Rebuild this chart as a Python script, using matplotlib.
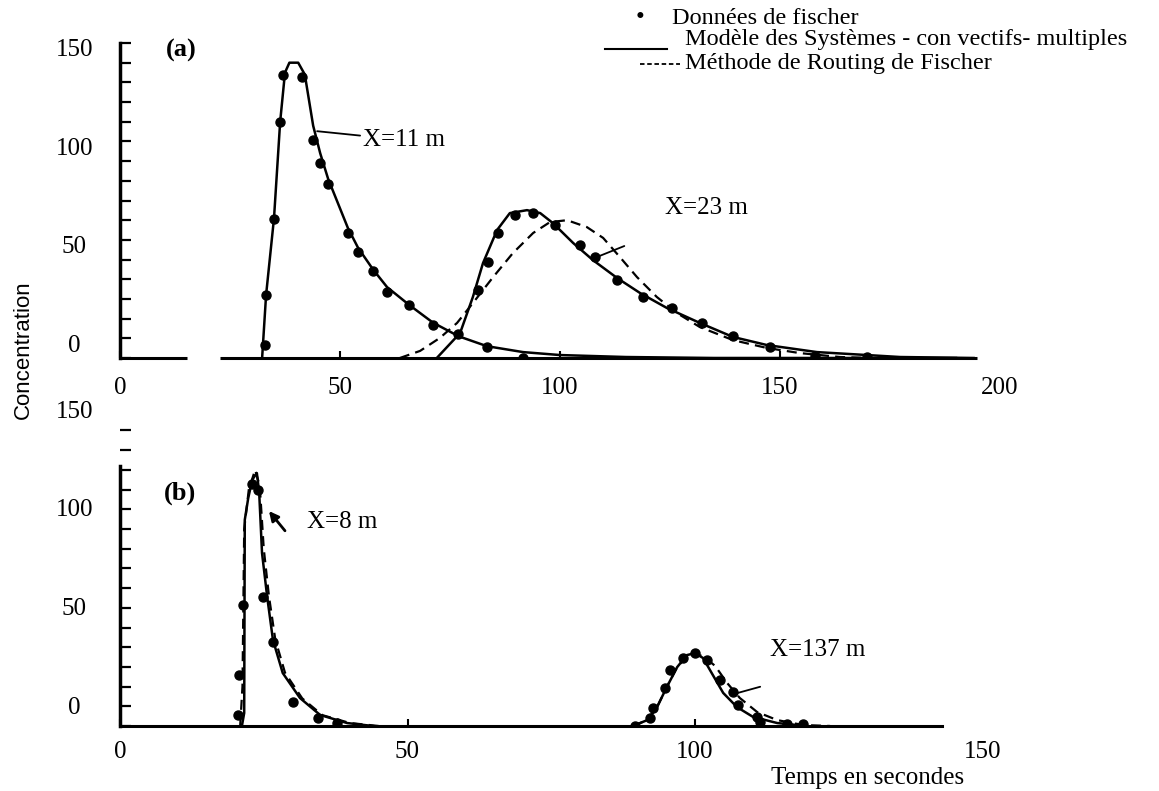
import matplotlib.pyplot as plt
from matplotlib.ticker import MultipleLocator
from matplotlib.transforms import ScaledTranslation
from matplotlib.lines import Line2D

plt.rcParams['font.family'] = 'Liberation Serif'

# ---- panel (a) ----
# X = 11 m
t11_model = [32.3, 33.2, 35.0, 36.4, 37.5, 38.5, 40.5, 42.0, 43.9, 45.5, 47.3, 51.8,
             54.1, 57.5, 60.7, 65.7, 71.1, 77.0, 83.4, 91.6, 100.0, 115.0, 135.0, 190.0]
c11_model = [0, 32, 71, 120, 145, 150, 150, 144, 118, 104, 91, 66,
             56, 45, 36, 27, 18, 11, 6, 3, 1.5, 0.5, 0, 0]
t11_data = [33.0, 33.2, 35.0, 36.4, 37.0, 41.4, 43.9, 45.5, 47.3, 51.8, 54.1, 57.5,
            60.7, 65.7, 71.1, 83.4, 91.6]
c11_data = [6.6, 32, 70.6, 120, 144, 142.6, 110.7, 99, 88.3, 63.5, 53.8, 44.2,
            33.5, 26.9, 16.8, 5.6, 0]

# X = 23 m
t23_model = [72.0, 77.3, 80.2, 82.5, 85.7, 88.6, 92.5, 95.5, 98.4, 103.0, 107.5, 113.0,
             118.2, 124.3, 131.8, 139.3, 147.0, 158.4, 169.8, 177.3, 194.0]
c23_model = [0, 12.7, 31, 48.2, 65, 73.6, 75.1, 73.6, 68.5, 58.4, 49.7, 40.6,
             33, 25.4, 17.8, 10.7, 6.6, 3, 1.5, 0.5, 0]
t23_fischer = [63.6, 68.2, 72.7, 76.6, 80.2, 84.8, 89.3, 93.9, 97.7, 101.6, 106.1, 109.8,
               113.6, 117.5, 122.0, 126.6, 131.8, 139.3, 147.0, 154.5, 163.6, 170.5]
c23_fischer = [0, 3.6, 10.2, 17.8, 27.9, 41.1, 53.3, 63.5, 69, 70, 66.5, 61,
               51.3, 41.1, 31, 22.8, 15.7, 9.1, 5.1, 2.5, 0.5, 0]
t23_data = [76.8, 81.4, 83.6, 85.9, 89.8, 93.9, 98.9, 104.5, 108.0, 113.0, 118.9, 125.5,
            132.3, 139.3, 147.7, 158.0, 169.8]
c23_data = [12.2, 34.5, 48.7, 63.5, 72.6, 73.6, 67.5, 57.4, 51.3, 39.6, 31, 25.4,
            17.8, 11.2, 5.6, 1, 0.5]

# ---- panel (b) ----
# X = 8 m
t8_model = [21.2, 21.6, 21.7, 22.3, 23.0, 23.8, 24.2, 24.7, 25.6, 26.6, 28.3, 31.3,
            34.8, 39.5, 44.0]
c8_model = [0, 6.6, 104.6, 115.7, 125, 128.4, 118.8, 87.8, 65.5, 43.7, 26.9, 14.2,
            5.6, 1.5, 0]
t8_fischer = [20.9, 21.3, 21.6, 22.4, 23.5, 24.3, 25.0, 25.9, 27.0, 28.7, 31.7, 35.2,
              40.0, 45.0]
c8_fischer = [0, 20, 100, 120, 130, 122, 90, 66, 44, 27, 14, 5.5, 1.5, 0]
t8_data = [20.5, 20.7, 21.4, 23.0, 24.0, 24.9, 26.6, 30.1, 34.4, 37.7]
c8_data = [5.6, 25.9, 61.4, 123, 119.8, 65.5, 42.6, 12.2, 4.1, 1.5]

# X = 137 m
t137_model = [89.2, 91.7, 93.4, 95.1, 96.9, 98.6, 100.0, 101.4, 103.1, 104.9, 107.3,
              110.1, 114.3, 119.5]
c137_model = [0, 3, 9.6, 19.8, 29.9, 36, 37, 34.5, 25.9, 16.8, 9.6, 4.6, 1.5, 0]
t137_fischer = [89.2, 91.7, 93.4, 95.1, 96.9, 99.1, 101.4, 103.5, 105.6, 107.8, 110.8,
                114.3, 118.8, 123.5]
c137_fischer = [0, 3, 9.6, 19.8, 29.9, 37, 35.5, 30.5, 21.8, 14.2, 7.1, 3, 0.5, 0]
t137_data = [89.6, 92.2, 92.7, 94.8, 95.7, 97.9, 100.0, 102.1, 104.3, 106.6, 107.5,
             110.8, 111.3, 116.0, 118.8]
c137_data = [0, 4, 9.1, 19.3, 28.4, 34.5, 37, 33.5, 23.4, 17.3, 10.7, 4.6, 2, 1, 1]

W, H = 1159, 791
fig = plt.figure(figsize=(W / 100, H / 100), dpi=100)
ax1 = fig.add_axes([120 / W, 1 - 358 / H, 880 / W, 315 / H])
ax2 = fig.add_axes([120 / W, 1 - 726 / H, 862.5 / W, 295.5 / H])

line_kw = dict(color='black', lw=1.8)
dash_kw = dict(color='black', lw=1.6, dashes=(4.5, 2.8))
dot_kw = dict(color='black', marker='o', ms=6.5, ls='none')

ax1.plot(t11_model, c11_model, **line_kw)
ax1.plot(t11_data, c11_data, **dot_kw)
ax1.plot(t23_fischer, c23_fischer, **dash_kw)
ax1.plot(t23_model, c23_model, **line_kw)
ax1.plot(t23_data, c23_data, **dot_kw)

ax2.plot(t8_fischer, c8_fischer, **dash_kw)
ax2.plot(t8_model, c8_model, **line_kw)
ax2.plot(t8_data, c8_data, **dot_kw)
ax2.plot(t137_fischer, c137_fischer, **dash_kw)
ax2.plot(t137_model, c137_model, **line_kw)
ax2.plot(t137_data, c137_data, **dot_kw)

ax1.set_xlim(0, 200)
ax1.set_ylim(0, 160)
ax2.set_xlim(0, 150)
ax2.set_ylim(0, 150)

# broken baseline of panel (a)
ax1.spines['bottom'].set_visible(False)
ax1.hlines([0, 0], [0, 22.7], [15.2, 194.8], color='black', lw=2.2, clip_on=False)
ax2.spines['bottom'].set_bounds(0, 143)
ax2.spines['bottom'].set_linewidth(2.2)
ax2.spines['left'].set_bounds(0, 132)

for ax, xt, xpad, shift in [(ax1, [0, 50, 100, 150, 200], 14, 15),
                            (ax2, [0, 50, 100, 150], 11, 21)]:
    for s in ['top', 'right']:
        ax.spines[s].set_visible(False)
    ax.spines['left'].set_linewidth(2.5)
    ax.set_xticks(xt)
    ax.set_yticks([0, 50, 100, 150])
    ax.yaxis.set_minor_locator(MultipleLocator(10))
    ax.tick_params(axis='y', which='both', direction='in', length=8, width=1.6,
                   labelsize=18, pad=33)
    ax.tick_params(axis='x', direction='in', length=5, width=1.5, labelsize=18, pad=xpad)
    # the last x tick lies past the end of the drawn baseline
    ax.xaxis.get_major_ticks()[-1].tick1line.set_visible(False)
    off = ScaledTranslation(0, shift / 100, fig.dpi_scale_trans)
    for lab in ax.get_yticklabels():
        lab.set_horizontalalignment('center')
        lab.set_transform(lab.get_transform() + off)

ax1.text(13.9, 156, '(a)', fontsize=19, fontweight='bold', ha='center', va='center')
ax2.text(10.4, 118.3, '(b)', fontsize=19, fontweight='bold', ha='center', va='center')

ax1.annotate('X=11 m', xy=(44.8, 115.2), xytext=(55.2, 110.7), fontsize=18, va='center',
             arrowprops=dict(arrowstyle='-', lw=1.3, color='black', shrinkA=0, shrinkB=0))
ax1.text(133.2, 76.1, 'X=23 m', fontsize=18, ha='center', va='center')
ax1.annotate('', xy=(108.4, 51.3), xytext=(115.2, 57.4),
             arrowprops=dict(arrowstyle='-', lw=1.3, color='black'))
ax2.text(32.5, 103.6, 'X=8 m', fontsize=18, va='center')
ax2.annotate('', xy=(25.6, 110.2), xytext=(29.0, 98.0),
             arrowprops=dict(arrowstyle='-|>', lw=2, color='black', mutation_scale=14))
ax2.text(113, 38.6, 'X=137 m', fontsize=18, va='center')
ax2.annotate('', xy=(106.1, 15.7), xytext=(111.8, 20.3),
             arrowprops=dict(arrowstyle='-', lw=1.3, color='black'))

fig.text(23 / W, 1 - 350 / H, 'Concentration', rotation=90, ha='center', va='center',
         fontsize=16, family='Liberation Sans')
fig.text(868 / W, 1 - 778 / H, 'Temps en secondes', ha='center', va='center', fontsize=18)

# legend drawn in figure pixels
fig.text(640 / W, 1 - 18 / H, '\u2022', ha='center', va='center', fontsize=18)
fig.text(672 / W, 1 - 19 / H, 'Données de fischer', va='center', fontsize=17.5)
fig.add_artist(Line2D([605 / W, 667 / W], [1 - 49 / H, 1 - 49 / H], color='black', lw=1.5))
fig.text(685 / W, 1 - 40 / H, 'Modèle des Systèmes - con vectifs- multiples', va='center',
         fontsize=17.5)
fig.add_artist(Line2D([640 / W, 680 / W], [1 - 64 / H, 1 - 64 / H], color='black', lw=1.3,
                      dashes=(2.5, 1.5)))
fig.text(685 / W, 1 - 64 / H, 'Méthode de Routing de Fischer', va='center', fontsize=17.5)

fig.savefig('out.png', dpi=100)
